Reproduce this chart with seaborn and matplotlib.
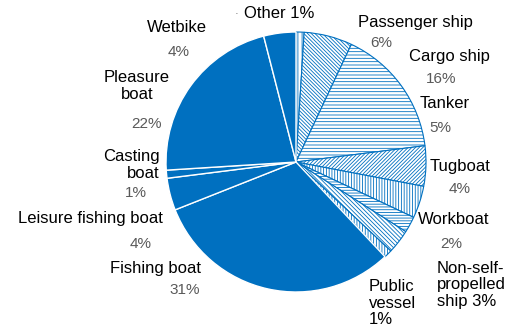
import matplotlib
matplotlib.use("Agg")
import matplotlib.pyplot as plt
import seaborn as sns

categories = ["Other", "Passenger ship", "Cargo ship", "Tanker", "Tugboat", "Workboat",
              "Non-self-propelled ship", "Public vessel", "Fishing boat",
              "Leisure fishing boat", "Casting boat", "Pleasure boat", "Wetbike"]
values = [1, 6, 16, 5, 4, 2, 3, 1, 31, 4, 1, 22, 4]
hatches = ["||||", "\\" * 9, "-----", "/" * 9, "||||||", "------", "\\" * 8, "||||||",
           None, None, None, None, None]

sns.set_theme(style="white")
plt.rcParams['font.family'] = ['Liberation Sans', 'DejaVu Sans']
plt.rcParams['hatch.linewidth'] = 0.6

BLUE = "#0070C0"
GREY = "#595959"
H = 329

fig = plt.figure(figsize=(5.2, 3.29), dpi=100)
ax = fig.add_axes([0, 0, 1, 1])

wedges, _ = ax.pie(values, startangle=90, counterclock=False, radius=130,
                   center=(296, H - 162), colors=[BLUE] * len(values))
for w, h in zip(wedges, hatches):
    if h:
        w.set_facecolor("white")
        w.set_edgecolor(BLUE)
        w.set_hatch(h)
        w.set_linewidth(0.8)
    else:
        w.set_facecolor(BLUE)
        w.set_edgecolor("white")
        w.set_linewidth(1.0)
ax.set_xlim(0, 520)
ax.set_ylim(0, H)
ax.set_aspect("equal")
ax.axis("off")

fs = 12
ps = 11
def lab(x, y, s, ha="center", color="black", size=fs):
    ax.text(x, H - y, s, ha=ha, va="center", color=color, fontsize=size, linespacing=1.1)

lab(279, 14, "Other 1%")
ax.text(237, H - 14, "·", ha="center", va="center", color=GREY, fontsize=8)
lab(415, 22, "Passenger ship"); lab(381, 43, "6%", color=GREY, size=ps)
lab(449, 56, "Cargo ship"); lab(441, 79, "16%", color=GREY, size=ps)
lab(445, 104, "Tanker"); lab(440, 128, "5%", color=GREY, size=ps)
lab(460, 166, "Tugboat"); lab(460, 189, "4%", color=GREY, size=ps)
lab(454, 219, "Workboat"); lab(451, 244, "2%", color=GREY, size=ps)
lab(437, 285, "Non-self-\npropelled\nship 3%", ha="left")
lab(369, 303, "Public\nvessel\n1%", ha="left")
lab(155, 269, "Fishing boat"); lab(185, 290, "31%", color=GREY, size=ps)
lab(90, 218, "Leisure fishing boat"); lab(141, 244, "4%", color=GREY, size=ps)
lab(160, 165, "Casting\nboat", ha="right"); lab(136, 193, "1%", color=GREY, size=ps)
lab(137, 86, "Pleasure\nboat"); lab(146, 124, "22%", color=GREY, size=ps)
lab(177, 27, "Wetbike"); lab(179, 52, "4%", color=GREY, size=ps)

fig.savefig("out.png", dpi=100)
